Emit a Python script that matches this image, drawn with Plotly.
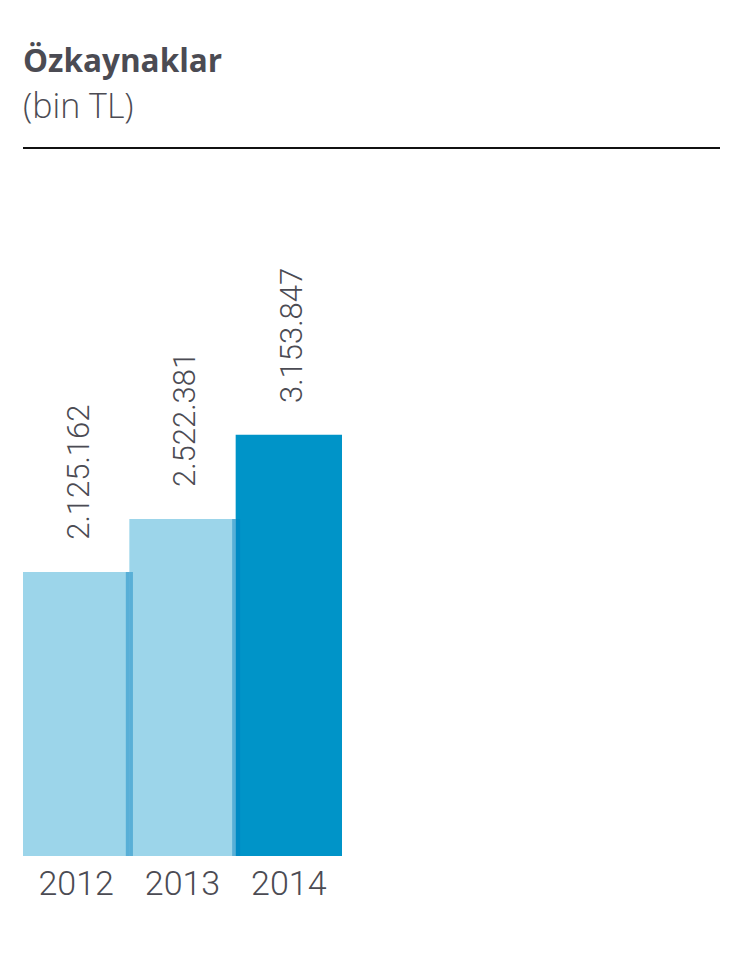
import plotly.graph_objects as go

years = ["2012", "2013", "2014"]
values = [2125162, 2522381, 3153847]
value_labels = ["2.125.162", "2.522.381", "3.153.847"]
title_text = "Özkaynaklar"
subtitle_text = "(bin TL)"

positions = list(range(len(years)))
bar_colors = ["rgba(0,148,200,0.39)", "rgba(0,148,200,0.39)", "rgb(0,148,200)"]
edge_widths = [0.067, 0.075, 0.0]
text_color = "#4b4b53"
num_font = "Roboto, sans-serif"

fig = go.Figure()
fig.add_trace(go.Bar(
    x=positions, y=values,
    marker=dict(color=bar_colors, line=dict(width=0)),
    width=1.0, offset=-0.5,
    hoverinfo="skip",
))
# darker seam strip at the right edge of each bar
fig.add_trace(go.Bar(
    x=positions, y=values,
    marker=dict(color="rgba(0,125,190,0.43)", line=dict(width=0)),
    width=edge_widths, offset=0.467,
    hoverinfo="skip",
))

for p, v, lab in zip(positions, values, value_labels):
    fig.add_annotation(
        x=p, y=v, text=lab, textangle=-90, showarrow=False,
        xanchor="center", yanchor="bottom", yshift=30, xshift=2,
        font=dict(family=num_font, size=31, color=text_color, weight=300),
    )

fig.add_annotation(
    xref="paper", yref="paper", x=0, y=1, xanchor="left", yanchor="bottom",
    text="<b>" + title_text + "</b>", showarrow=False, yshift=65, xshift=-2,
    font=dict(family="Open Sans, sans-serif", size=31.5, color=text_color),
)
fig.add_annotation(
    xref="paper", yref="paper", x=0, y=1, xanchor="left", yanchor="bottom",
    text=subtitle_text, showarrow=False, yshift=18, xshift=-2,
    font=dict(family="Open Sans, sans-serif", size=34, color=text_color, weight=300),
)
fig.add_shape(type="line", xref="paper", yref="paper", x0=0, x1=1, y0=1, y1=1,
              line=dict(color="#111111", width=2))

fig.update_layout(
    width=729, height=958,
    margin=dict(l=15, r=17, t=140, b=110),
    plot_bgcolor="white", paper_bgcolor="white",
    barmode="overlay", showlegend=False,
    xaxis=dict(domain=[0, 319 / 697], range=[-0.5, 2.5], showgrid=False, zeroline=False,
               showline=False, ticks="", ticklabelstandoff=4,
               tickvals=positions, ticktext=years,
               tickfont=dict(family=num_font, size=34, color=text_color, weight=300)),
    yaxis=dict(range=[0, 5.21e6 * 708 / 696], visible=False, showgrid=False),
)

fig.write_html("out.html")
